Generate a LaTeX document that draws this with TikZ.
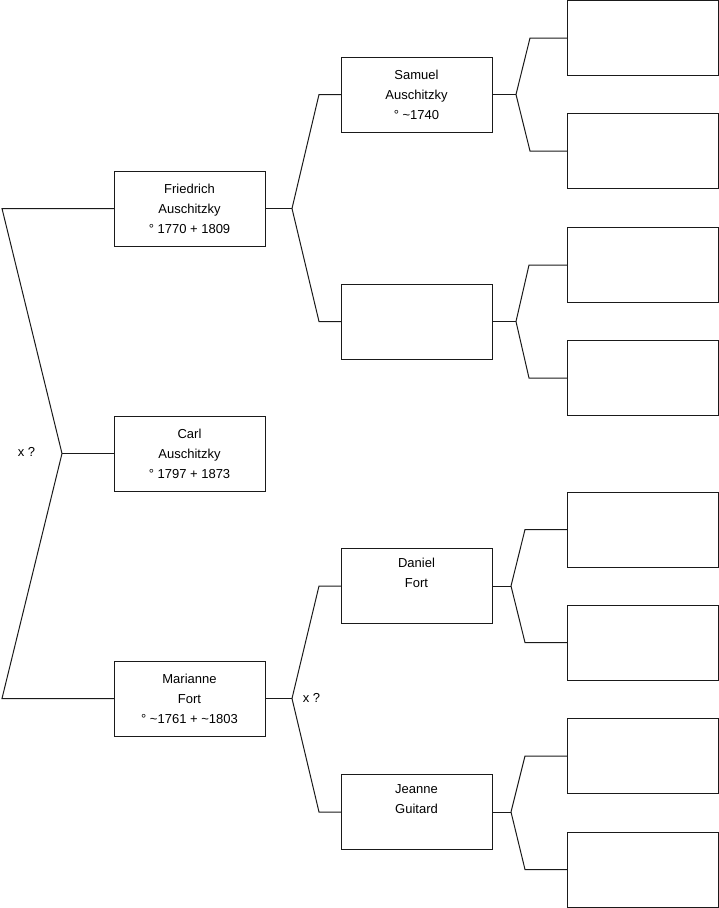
\documentclass[tikz,border=0pt]{standalone}
\usepackage{fontspec}
\setmainfont{Liberation Sans}
\usetikzlibrary{positioning, calc}
\definecolor{lineDark}{HTML}{1A1A1A}
\tikzset{
  boxA/.style={rectangle, draw=lineDark, line width=1pt, fill=white,
               align=center, font=\fontsize{13}{20}\selectfont,
               inner sep=0pt, outer sep=0pt, minimum width=151pt, minimum height=75pt},
  lineA/.style={draw=lineDark, line width=1pt},
  labelA/.style={font=\fontsize{13}{20}\selectfont, inner sep=0pt},
}
\begin{document}
\begin{tikzpicture}[x=1pt, y=-1pt]
    \useasboundingbox (0,0) rectangle (719,908);
    % children, parents
    \node[boxA] (fried) at (189.5,208.5) {Friedrich\\Auschitzky\\° 1770 + 1809};
    \node[boxA, below=170pt of fried] (carl) {Carl\\Auschitzky\\° 1797 + 1873};
    \node[boxA, below=170pt of carl] (mari) {Marianne\\Fort\\° \textasciitilde1761 + \textasciitilde1803};
    % grandparents
    \node[boxA] (sam) at (416.5,94.5) {Samuel\\Auschitzky\\° \textasciitilde1740};
    \node[boxA, below=152pt of sam] (empt) {};
    \node[boxA] (dan) at (416.5,586) {Daniel\\Fort\\\strut};
    \node[boxA, below=151pt of dan] (jea) {Jeanne\\Guitard\\\strut};
    % great-grandparents (empty)
    \foreach \n/\y in {1/38, 2/151, 3/265, 4/378, 5/529.5, 6/642.5, 7/756, 8/869.5}
      \node[boxA] (r\n) at (642.5,\y) {};
    % junctions
    \coordinate (jC) at (62,453.5);
    \coordinate (jF) at ([xshift=27pt]fried.east);
    \coordinate (jM) at ([xshift=27pt]mari.east);
    \coordinate (jS) at ([xshift=24pt]sam.east);
    \coordinate (jE) at ([xshift=24pt]empt.east);
    \coordinate (jD) at ([xshift=19pt]dan.east);
    \coordinate (jJ) at ([xshift=19pt]jea.east);
    \node[labelA] (xc) at (26.5,452) {x ?};
    \node[labelA] (xm) at (311.5,698) {x ?};
    % connectors
    \draw[lineA] (carl.west) -- (jC);
    \draw[lineA] (fried.west) -- ++(-112,0) -- (jC);
    \draw[lineA] (mari.west) -- ++(-112,0) -- (jC);
    \foreach \p/\j in {fried/jF, mari/jM, sam/jS, empt/jE, dan/jD, jea/jJ}
      \draw[lineA] (\p.east) -- (\j);
    \foreach \b/\j in {sam/jF, empt/jF, dan/jM, jea/jM}
      \draw[lineA] (\b.west) -- ++(-22,0) -- (\j);
    \foreach \b/\j/\d in {r1/jS/37, r2/jS/37, r3/jE/38, r4/jE/38,
                          r5/jD/42, r6/jD/42, r7/jJ/42, r8/jJ/42}
      \draw[lineA] (\b.west) -- ++(-\d,0) -- (\j);
\end{tikzpicture}
\end{document}
